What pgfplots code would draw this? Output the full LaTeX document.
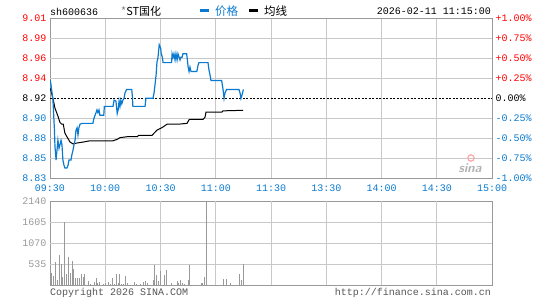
\documentclass[border=0pt]{standalone}
\usepackage{pgfplots}
\pgfplotsset{compat=1.18}
\usepackage{fontspec}
\setmainfont{Liberation Sans}
\setmonofont{Liberation Mono}
\newfontfamily\cjk{Noto Sans CJK SC}
\definecolor{pblue}{HTML}{0A7AD0}
\definecolor{fgray}{HTML}{999999}
\definecolor{ggray}{HTML}{C8C8C8}
\definecolor{pred}{HTML}{FF0000}
\definecolor{tgray}{HTML}{555555}
\newcommand{\mono}{\ttfamily\fontsize{10}{10}\selectfont}
\tikzset{gridl/.style={ggray, line width=0.8pt}}
\begin{document}
\begin{tikzpicture}[x=1pt,y=1pt]
\useasboundingbox (0,0) rectangle (545,300);
% ---------------- price panel ----------------
\begin{axis}[
  at={(50pt,122pt)}, anchor=south west, scale only axis,
  width=442pt, height=159.3pt,
  xmin=0, xmax=240, ymin=8.8308, ymax=9.0092,
  axis line style={draw=fgray, line width=1pt},
  tick style={draw=none},
  xtick={0,30,...,240},
  xticklabels={09:30,10:00,10:30,11:00,11:30,13:30,14:00,14:30,15:00},
  xticklabel style={font=\mono, text=pblue, anchor=center, yshift=-10pt},
  ytick={8.8308,8.8531,8.8754,8.8977,8.92,8.9423,8.9646,8.9869,9.0092},
  yticklabels={\textcolor{pblue}{8.83},\textcolor{pblue}{8.85},\textcolor{pblue}{8.88},\textcolor{pblue}{8.90},\textcolor{black}{8.92},\textcolor{pred}{8.94},\textcolor{pred}{8.96},\textcolor{pred}{8.99},\textcolor{pred}{9.01}},
  yticklabel style={font=\mono},
]
\pgfplotsinvokeforeach{30,60,90,120,150,180,210}{
  \addplot[gridl] coordinates {(#1,8.8308) (#1,9.0092)};
}
\pgfplotsinvokeforeach{8.8531,8.8754,8.8977,8.9423,8.9646,8.9869}{
  \addplot[gridl] coordinates {(0,#1) (240,#1)};
}
\addplot[black, line width=1pt, dash pattern=on 2pt off 1.5pt] coordinates {(0,8.92) (240,8.92)};
\addplot[black, line width=1pt] coordinates {
(0,8.931) (0.5,8.929) (1.8,8.918) (2.7,8.909) (3.6,8.904) (4.5,8.899) (5.4,8.893) (6.4,8.891) (7.2,8.891) (8.1,8.881) (9.2,8.877) (10.9,8.871) (12.5,8.869) (14.7,8.870) (17.9,8.871) (21.7,8.8725) (34.2,8.8725) (36.4,8.874) (38,8.876) (41.8,8.877) (47.5,8.877) (48,8.8786) (55.4,8.8786) (57,8.882) (58.1,8.8845) (59.7,8.886) (61.4,8.888) (63.5,8.891) (69.5,8.891) (74.4,8.892) (75.5,8.896) (76,8.8965) (83.1,8.8965) (84.2,8.899) (84.7,8.9047) (93.4,8.9047) (93.9,8.906) (104.8,8.9066)};
\addplot[pblue, line width=1.2pt] coordinates {
(0,8.941) (0.5,8.936) (1.6,8.918) (2.4,8.885) (2.7,8.866) (3.3,8.851) (3.8,8.862) (4.3,8.873) (4.9,8.864) (5.4,8.868) (6,8.873) (6.5,8.868) (7,8.851) (7.6,8.845) (8.1,8.842) (9.2,8.842) (9.8,8.845) (10.3,8.851) (11.4,8.851) (11.9,8.857) (12.5,8.862) (13,8.868) (13.6,8.873) (14.1,8.884) (14.7,8.887) (15.2,8.879) (15.7,8.887) (16.3,8.891) (17.4,8.892) (23.3,8.892) (23.9,8.898) (25,8.904) (25.5,8.907) (26,8.904) (26.6,8.907) (27.1,8.901) (29.2,8.901) (29.5,8.911) (34.2,8.911) (34.8,8.918) (35.8,8.917) (36.5,8.903) (37,8.907) (37.5,8.917) (38,8.911) (38.5,8.918) (39,8.914) (39.6,8.918) (40.2,8.920) (40.7,8.926) (41.6,8.930) (44.4,8.930) (44.8,8.920) (45,8.911) (51.6,8.911) (52.1,8.920) (55.9,8.920) (56.5,8.926) (57,8.935) (57.6,8.946) (58.1,8.961) (58.6,8.965) (59.3,8.980) (60.1,8.976) (60.4,8.970) (61,8.966) (61.4,8.960) (66,8.960) (66.3,8.970) (66.8,8.966) (67.3,8.970) (67.9,8.963) (68.4,8.970) (69,8.963) (69.5,8.970) (70.6,8.963) (71.1,8.966) (71.7,8.966) (72.2,8.970) (74.2,8.970) (74.7,8.961) (75,8.955) (75.5,8.950) (76,8.955) (76.6,8.950) (79.7,8.950) (80.4,8.957) (80.9,8.960) (85.8,8.960) (86.3,8.952) (86.9,8.946) (87.4,8.940) (93.2,8.940) (93.5,8.936) (93.9,8.931) (94.5,8.920) (95,8.926) (95.9,8.930) (102.6,8.930) (103.2,8.926) (103.7,8.920) (104.3,8.924) (105,8.930)};
\end{axis}
% right percentage axis
\begin{axis}[
  at={(50pt,122pt)}, anchor=south west, scale only axis,
  width=442pt, height=159.3pt,
  xmin=0, xmax=240, ymin=-1, ymax=1,
  axis y line*=right, axis x line=none,
  axis line style={draw=fgray, line width=1pt},
  tick style={draw=none},
  ytick={-1,-0.75,-0.5,-0.25,0,0.25,0.5,0.75,1},
  yticklabels={\textcolor{pblue}{-1.00\%},\textcolor{pblue}{-0.75\%},\textcolor{pblue}{-0.50\%},\textcolor{pblue}{-0.25\%},\textcolor{black}{0.00\%},\textcolor{pred}{+0.25\%},\textcolor{pred}{+0.50\%},\textcolor{pred}{+0.75\%},\textcolor{pred}{+1.00\%}},
  yticklabel style={font=\mono},
]
\end{axis}
% ---------------- volume panel ----------------
\begin{axis}[
  at={(50pt,14.7pt)}, anchor=south west, scale only axis,
  width=442pt, height=84.3pt,
  xmin=0, xmax=240, ymin=0, ymax=2140,
  axis line style={draw=fgray, line width=1pt},
  tick style={draw=none},
  xtick={0,30,...,240}, xticklabels={},
  ytick={535,1070,1605,2140},
  yticklabels={535,1070,1605,2140},
  yticklabel style={font=\mono, text=fgray},
]
\pgfplotsinvokeforeach{30,60,90,120,150,180,210}{
  \addplot[gridl] coordinates {(#1,0) (#1,2140)};
}
\pgfplotsinvokeforeach{535,1070,1605}{
  \addplot[gridl] coordinates {(0,#1) (240,#1)};
}
\addplot[ycomb, fgray, line width=1pt] coordinates {
(0,320) (1,300) (2,230) (3,585) (4,127) (5,760) (6,550) (7,210) (8,1605) (9,280) (10,711) (11,300) (12,610) (13,423) (14,195) (15,178) (16,178) (17,296) (18,203) (19,280) (21,100) (22,25) (23,17) (24,93) (25,178) (26,68) (27,93) (29,34) (30,59) (32,93) (33,34) (34,195) (35,42) (36,280) (37,68) (38,280) (39,25) (40,42) (41,229) (42,68) (43,17) (45,17) (46,76) (47,25) (48,17) (49,42) (50,17) (51,76) (52,102) (53,68) (54,17) (56,127) (57,525) (58,254) (59,102) (60,356) (61,17) (62,254) (63,381) (66,68) (67,17) (68,17) (69,102) (70,51) (71,127) (72,51) (73,25) (75,127) (76,525) (77,17) (81,17) (82,68) (83,68) (84,203) (85,2140) (87,17) (88,17) (90,17) (93,17) (94,152) (95,17) (96,152) (98,51) (99,17) (101,17) (103,280) (104,127) (105,550)};
\end{axis}
% ---------------- header and footer texts ----------------
\node[anchor=west, inner sep=0pt, font=\mono] at (50,288.5) {sh600636};
\node[anchor=west, inner sep=0pt, font=\cjk\fontsize{11}{11}\selectfont] at (121,288.5) {\textcolor{gray}{*}ST国化};
\draw[pblue, line width=3pt] (200,289) -- (209,289);
\node[anchor=west, inner sep=0pt, text=pblue, font=\cjk\fontsize{11.5}{11.5}\selectfont] at (215,288.5) {价格};
\draw[black, line width=3pt] (249,289) -- (258,289);
\node[anchor=west, inner sep=0pt, font=\cjk\fontsize{11.5}{11.5}\selectfont] at (264,288.5) {均线};
\node[anchor=east, inner sep=0pt, font=\mono] at (491,288.5) {2026-02-11 11:15:00};
\node[anchor=west, inner sep=0pt, font=\mono, text=tgray] at (50,7.3) {Copyright 2026 SINA.COM};
\node[anchor=east, inner sep=0pt, font=\mono, text=tgray] at (491,7.3) {http://finance.sina.com.cn};
% watermark
\draw[red!35, line width=1.2pt] (471,142) circle (3.2);
\node[inner sep=0pt, text=black!30, font=\sffamily\bfseries\itshape\fontsize{13}{13}\selectfont] at (470,132) {sina};
\end{tikzpicture}
\end{document}
